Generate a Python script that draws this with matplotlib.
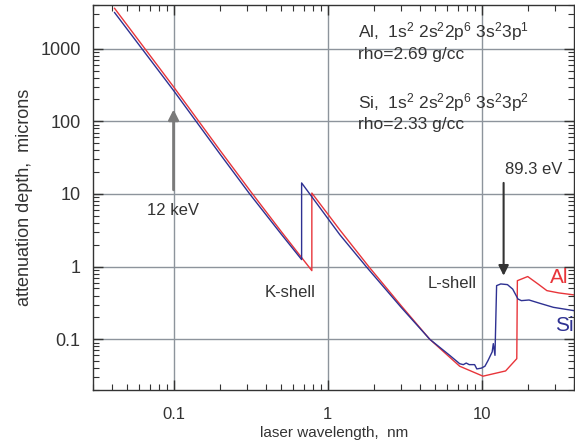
import matplotlib
matplotlib.use("Agg")
import matplotlib.pyplot as plt

plt.rcParams['font.family'] = ['Liberation Sans', 'DejaVu Sans']
plt.rcParams['mathtext.fontset'] = 'custom'
plt.rcParams['mathtext.rm'] = 'Liberation Sans'
plt.rcParams['mathtext.it'] = 'Liberation Sans'

# Al (red) attenuation depth, microns vs wavelength nm
al_wl = [0.0414, 0.1, 0.2, 0.32, 0.5, 0.79, 0.79, 1.2, 1.85, 3.0, 4.6, 7.2, 10.2, 14.3, 16.9,
         17.05, 19.9, 23.2, 26.5, 31.7, 40]
al_val = [3600, 299, 40, 10.5, 3.04, 0.88, 10.3, 3.2, 1.0, 0.29, 0.1, 0.0425, 0.031, 0.0366, 0.054,
          0.64, 0.73, 0.577, 0.467, 0.434, 0.407]

# Si (blue)
si_wl = [0.0414, 0.1, 0.2, 0.31, 0.5, 0.678, 0.678, 1.2, 1.78, 3.0, 4.6, 6.2, 7.2, 7.6, 7.94,
         8.3, 9.0, 9.3, 9.95, 10.5, 11.0, 11.7, 11.9, 12.2, 12.5, 13.3, 14.7, 15.9, 17.2,
         18.1, 20.3, 23.9, 29.2, 40]
si_val = [3150, 266, 35.6, 10.2, 2.8, 1.25, 14.2, 2.75, 1.0, 0.275, 0.1, 0.06, 0.046, 0.0447,
          0.047, 0.0447, 0.0447, 0.039, 0.040, 0.0425, 0.051, 0.067, 0.087, 0.06, 0.547, 0.577,
          0.565, 0.49, 0.358, 0.34, 0.347, 0.312, 0.275, 0.247]

xticks = [0.1, 1, 10]
xticklabels = ['0.1', '1', '10']
yticks = [0.1, 1, 10, 100, 1000]
yticklabels = ['0.1', '1', '10', '100', '1000']

RED = '#e8353a'
BLUE = '#2e3192'
TXT = '#333333'

fig = plt.figure(figsize=(5.75, 4.44), dpi=100)
ax = fig.add_axes([93/575, 1-390/444, 1-93/575-0.001, (390-5)/444])
ax.set_xscale('log')
ax.set_yscale('log')
ax.set_xlim(0.03, 40)
ax.set_ylim(0.02, 4000)

ax.grid(True, which='major', color='#8d949c', lw=1)
ax.set_axisbelow(True)

ax.plot(al_wl, al_val, color=RED, lw=1)
ax.plot(si_wl, si_val, color=BLUE, lw=1)

ax.set_xticks(xticks)
ax.set_xticklabels(xticklabels)
ax.set_yticks(yticks)
ax.set_yticklabels(yticklabels)
ax.tick_params(which='both', direction='in', top=True, right=True, colors=TXT)
ax.tick_params(which='major', length=7, width=1)
ax.tick_params(which='minor', length=4, width=0.8)
ax.tick_params(axis='x', which='major', labelsize=12, pad=12)
ax.tick_params(axis='y', which='major', labelsize=13, pad=9)
for s in ax.spines.values():
    s.set_color('#333333')
    s.set_linewidth(1)

ax.set_xlabel('laser wavelength,  nm', fontsize=11, color=TXT, labelpad=3)
ax.set_ylabel('attenuation depth,  microns', fontsize=13, color=TXT, labelpad=5)

# arrows
ax.annotate('', xy=(0.1, 146), xytext=(0.1, 11.4),
            arrowprops=dict(arrowstyle='-|>,head_length=0.6,head_width=0.3',
                            color='#7a7a7a', lw=2, shrinkA=0, shrinkB=0))
ax.annotate('', xy=(13.88, 0.75), xytext=(13.88, 14.2),
            arrowprops=dict(arrowstyle='-|>,head_length=0.6,head_width=0.3',
                            color='#333333', lw=1.5, shrinkA=0, shrinkB=0))

ax.text(0.0668, 6.0, '12 keV', fontsize=12, color=TXT, va='center', ha='left')
ax.text(0.39, 0.44, 'K-shell', fontsize=12, color=TXT, va='center', ha='left')
ax.text(4.46, 0.58, 'L-shell', fontsize=12, color=TXT, va='center', ha='left')
ax.text(14.1, 21.4, '89.3 eV', fontsize=12, color=TXT, va='center', ha='left')
ax.text(27.7, 0.705, 'Al', fontsize=15, color=RED, va='center', ha='left')
ax.text(29.8, 0.156, 'Si', fontsize=15, color=BLUE, va='center', ha='left')

ax.text(1.57, 1710, r'Al,  1s$^2$ 2s$^2$2p$^6$ 3s$^2$3p$^1$', fontsize=12.5, color=TXT,
        va='center', ha='left')
ax.text(1.57, 826, 'rho=2.69 g/cc', fontsize=12.5, color=TXT, va='center', ha='left')
ax.text(1.57, 183, r'Si,  1s$^2$ 2s$^2$2p$^6$ 3s$^2$3p$^2$', fontsize=12.5, color=TXT,
        va='center', ha='left')
ax.text(1.57, 91, 'rho=2.33 g/cc', fontsize=12.5, color=TXT, va='center', ha='left')

fig.savefig('out.png', dpi=100)
